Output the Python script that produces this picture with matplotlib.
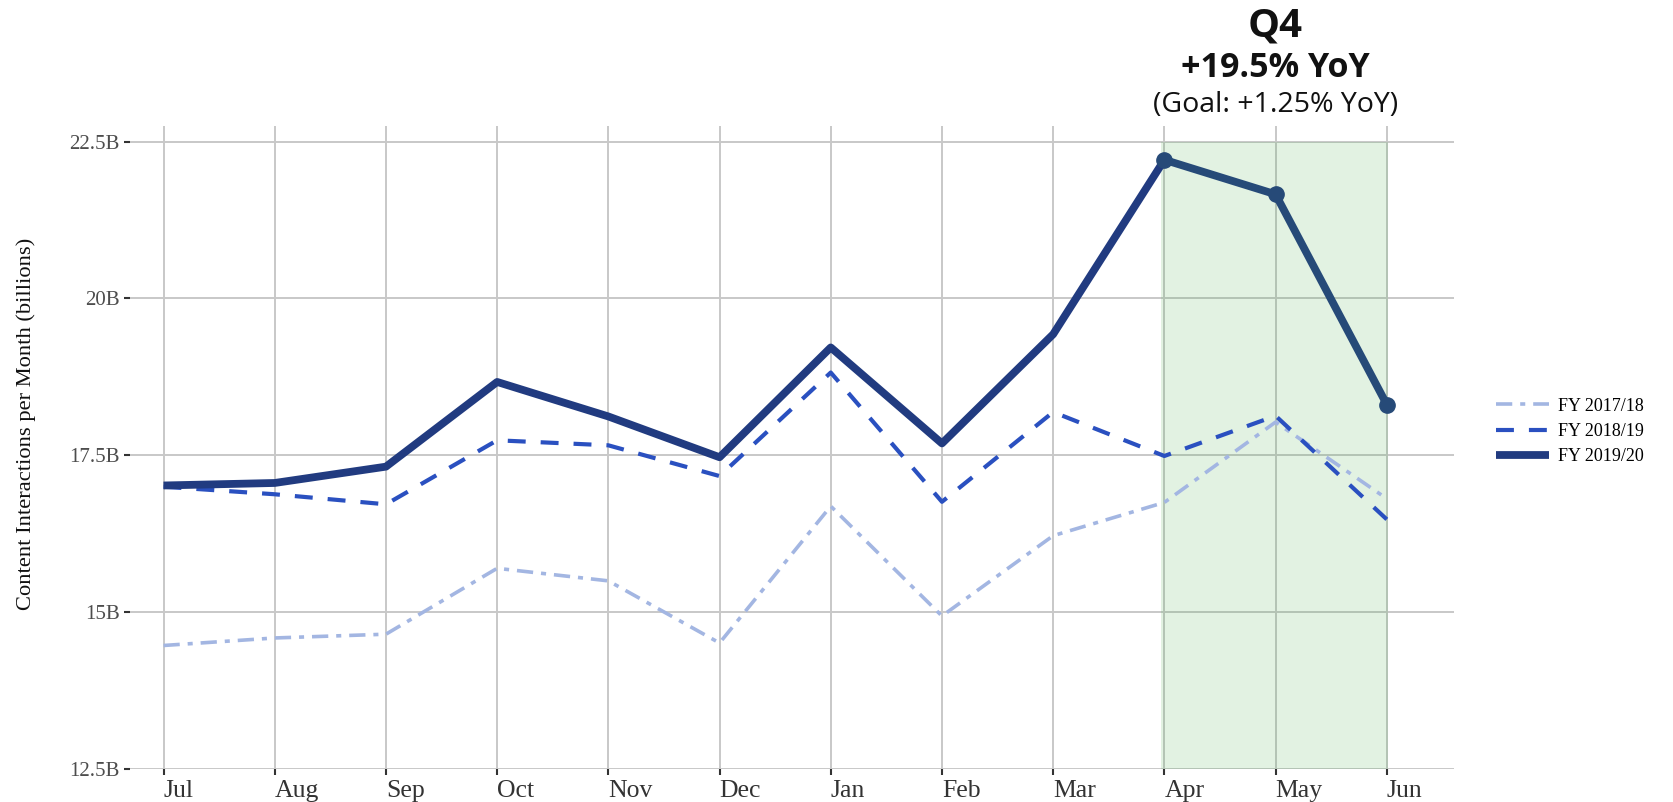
import numpy as np
import matplotlib
matplotlib.use("Agg")
import matplotlib.pyplot as plt
import matplotlib.transforms as mtransforms

# Months of the fiscal year (Jul -> Jun)
months = ['Jul', 'Aug', 'Sep', 'Oct', 'Nov', 'Dec', 'Jan', 'Feb', 'Mar', 'Apr', 'May', 'Jun']

# Content interactions per month, billions
fy_2017_18 = [14.47, 14.59, 14.65, 15.70, 15.50, 14.51, 16.69, 14.94, 16.22, 16.75, 18.03, 16.81]
fy_2018_19 = [17.00, 16.88, 16.72, 17.74, 17.66, 17.17, 18.82, 16.76, 18.19, 17.49, 18.13, 16.48]
fy_2019_20 = [17.02, 17.06, 17.32, 18.67, 18.12, 17.47, 19.22, 17.69, 19.43, 22.21, 21.66, 18.31]

y_ticks = [12.5, 15, 17.5, 20, 22.5]
y_tick_labels = ['12.5B', '15B', '17.5B', '20B', '22.5B']

q4_start = 9  # Apr
q4_title = 'Q4'
q4_growth = '+19.5% YoY'
q4_goal = '(Goal: +1.25% YoY)'

SERIF = ['Liberation Serif', 'DejaVu Serif']
SANS = ['Open Sans', 'DejaVu Sans']

fig = plt.figure(figsize=(16.73, 8.02), dpi=100)
ax = fig.add_axes([0.0778, 0.041, 0.791, 0.802])

x = np.arange(len(months))

# Q4 highlight box
ax.fill_between([q4_start - 0.03, len(months) - 1 + 0.01], y_ticks[0], y_ticks[-1],
                color='#4caf50', alpha=0.16, linewidth=0, zorder=1)

ax.plot(x, fy_2017_18, color='#a3b6e2', linewidth=2.6,
        linestyle=(0, (4.5, 2.2, 1.4, 2.2)), label='FY 2017/18', zorder=3)
ax.plot(x, fy_2018_19, color='#2a50c0', linewidth=3.0,
        linestyle=(0, (4.3, 3.6)), label='FY 2018/19', zorder=4)
ax.plot(x[:q4_start + 1], fy_2019_20[:q4_start + 1], color='#213b80', linewidth=5.6,
        solid_capstyle='butt', label='FY 2019/20', zorder=5)
ax.plot(x[q4_start:], fy_2019_20[q4_start:], color='#264a78', linewidth=5.6,
        marker='o', markersize=11, zorder=6)

ax.set_xlim(-0.3, 11.6)
ax.set_ylim(12.5, 22.75)
ax.set_xticks(x)
ax.set_xticklabels(months, fontfamily=SERIF, fontsize=18.5, color='#333333', ha='left')
ax.set_yticks(y_ticks)
ax.set_yticklabels(y_tick_labels, fontfamily=SERIF, fontsize=15, color='#4d4d4d')
ax.tick_params(axis='both', length=4.5, width=1.5, color='#333333', pad=3)
ax.tick_params(axis='x', pad=3)

ax.set_axisbelow(True)
ax.grid(True, color='#c8c8c8', linewidth=1.4)
for s in ax.spines.values():
    s.set_visible(False)

ax.set_ylabel('Content Interactions per Month (billions)', fontfamily=SERIF,
              fontsize=16.2, color='#111111')
ax.yaxis.set_label_coords(-0.071, 0.537)

leg = ax.legend(loc='center left', bbox_to_anchor=(1.02, 0.525), frameon=False,
                prop={'family': SERIF, 'size': 13}, handlelength=2.9,
                labelspacing=0.45, handletextpad=0.5)

# Q4 annotation above the highlighted box
trans = mtransforms.blended_transform_factory(ax.transData, fig.transFigure)
ax.text(10, 0.968, q4_title, transform=trans, ha='center', va='center',
        fontfamily=SANS, fontweight='bold', fontsize=29, color='#111111')
ax.text(10, 0.915, q4_growth, transform=trans, ha='center', va='center',
        fontfamily=SANS, fontweight='bold', fontsize=24.5, color='#111111')
ax.text(10, 0.869, q4_goal, transform=trans, ha='center', va='center',
        fontfamily=SANS, fontsize=20.5, color='#111111')

fig.savefig('out.png', dpi=100)
